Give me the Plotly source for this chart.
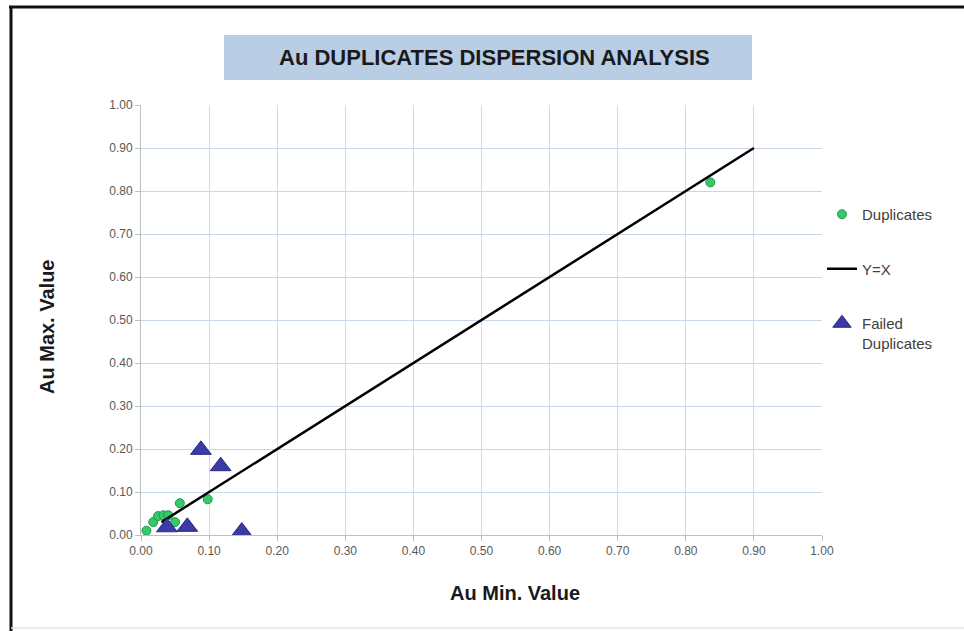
import plotly.graph_objects as go

# Duplicate pairs: minimum vs maximum Au value
dup_min = [0.008, 0.018, 0.025, 0.033, 0.040, 0.050, 0.057, 0.098, 0.836]
dup_max = [0.010, 0.030, 0.044, 0.046, 0.046, 0.030, 0.074, 0.083, 0.820]

# Pairs that failed the dispersion check
fail_min = [0.038, 0.068, 0.088, 0.117, 0.148]
fail_max = [0.018, 0.019, 0.198, 0.160, 0.008]

# Reference line Y = X
line_x = [0.03, 0.90]
line_y = [0.03, 0.90]

tick_vals = [i / 10 for i in range(11)]
tick_text = ["%.2f" % v for v in tick_vals]

# Plot area in pixels (used to place decorations in paper units)
L, R, T, B = 141, 822, 105, 535
W, H = R - L, B - T


def px(x):
    return (x - L) / W


def py(y):
    return (B - y) / H


fig = go.Figure()

fig.add_trace(go.Scatter(
    x=dup_min, y=dup_max, mode="markers", name="Duplicates",
    legendgroup="a",
    marker=dict(symbol="circle", size=9, color="#37c86a",
                line=dict(color="#1f9a4e", width=1)),
))
fig.add_trace(go.Scatter(
    x=line_x, y=line_y, mode="lines", name="Y=X",
    legendgroup="b",
    line=dict(color="#000000", width=2.5),
))
fig.add_trace(go.Scatter(
    x=fail_min, y=fail_max, mode="markers", name="Failed<br>Duplicates",
    legendgroup="c",
    marker=dict(symbol="triangle-up", size=18, color="#3b3aa6",
                line=dict(color="#2a2a8c", width=1)),
))

axis_common = dict(
    range=[0, 1], tickvals=tick_vals, ticktext=tick_text,
    showgrid=True, zeroline=False,
    showline=True, linecolor="#bfbfbf", linewidth=1,
    ticks="outside", ticklen=5, tickcolor="#bfbfbf",
    tickfont=dict(family="Liberation Sans Narrow, Liberation Sans, sans-serif",
                  size=12, color="#595959"),
    fixedrange=True,
)

fig.update_xaxes(**axis_common, gridcolor="#d9d9d9", mirror=False)
fig.update_yaxes(**axis_common, gridcolor="#c9d6e8")

shapes = [
    # title box
    dict(type="rect", xref="paper", yref="paper",
         x0=px(224), x1=px(752), y0=py(80), y1=py(35),
         fillcolor="#b9cde5", line=dict(width=0), layer="below"),
    # outer frame
    dict(type="line", xref="paper", yref="paper",
         x0=px(9), x1=px(964), y0=py(7), y1=py(7),
         line=dict(color="#111111", width=3)),
    dict(type="line", xref="paper", yref="paper",
         x0=px(11), x1=px(11), y0=py(6), y1=py(631),
         line=dict(color="#111111", width=3)),
    dict(type="line", xref="paper", yref="paper",
         x0=px(11), x1=px(964), y0=py(628), y1=py(628),
         line=dict(color="#e3e3e3", width=1.5)),
]

annotations = [
    dict(text="<b>Au DUPLICATES DISPERSION ANALYSIS</b>", xref="paper", yref="paper",
         x=px(494), y=py(58), showarrow=False, xanchor="center", yanchor="middle",
         font=dict(family="Liberation Sans, Arial, sans-serif", size=22, color="#1a1a1a")),
    dict(text="<b>Au Min. Value</b>", xref="paper", yref="paper",
         x=px(515), y=py(593), showarrow=False, xanchor="center", yanchor="middle",
         font=dict(family="Liberation Sans, Arial, sans-serif", size=20, color="#1a1a1a")),
    dict(text="<b>Au Max. Value</b>", xref="paper", yref="paper",
         x=px(47), y=py(327), showarrow=False, xanchor="center", yanchor="middle",
         textangle=-90,
         font=dict(family="Liberation Sans, Arial, sans-serif", size=20, color="#1a1a1a")),
]

fig.update_layout(
    width=964, height=631,
    margin=dict(l=L, r=964 - R, t=T, b=631 - B),
    paper_bgcolor="#ffffff", plot_bgcolor="#ffffff",
    shapes=shapes, annotations=annotations,
    showlegend=True,
    legend=dict(
        x=1.0, y=py(198), xanchor="left", yanchor="top",
        traceorder="grouped", tracegroupgap=32, valign="top",
        font=dict(family="Liberation Sans, Arial, sans-serif", size=15, color="#404040"),
        bgcolor="rgba(0,0,0,0)",
    ),
)

fig.write_html("out.html")
